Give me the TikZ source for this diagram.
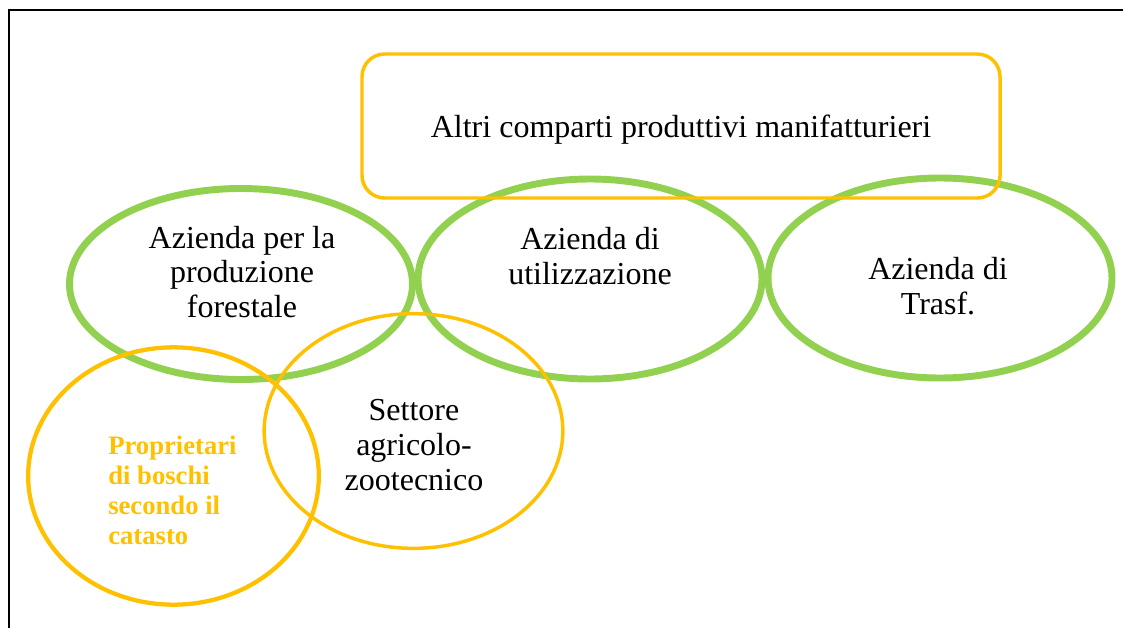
\documentclass[tikz,border=0pt]{standalone}
\usepackage{fontspec}
\setmainfont{Liberation Serif}
\usetikzlibrary{shapes.geometric}
\definecolor{grn}{HTML}{92D050}
\definecolor{org}{HTML}{FFC000}
\begin{document}
\begin{tikzpicture}[x=0.75pt,y=-0.75pt,
  greenell/.style={draw=grn,line width=5.2pt,ellipse,inner sep=0pt},
  orgell/.style={draw=org,line width=2.6pt,ellipse,inner sep=0pt},
  lbl/.style={align=center,font=\fontsize{24}{26}\selectfont,inner sep=0pt},
  blbl/.style={align=left,text=org,font=\fontsize{20}{22.5}\selectfont\bfseries,inner sep=0pt}]
\useasboundingbox (0,0) rectangle (1123,628);
\draw[line width=1.5pt] (9,628) -- (9,10) -- (1123,10);
% green ellipses
\node[greenell,minimum width=257.25pt,minimum height=143.25pt] (e1) at (241,284) {};
\node[greenell,minimum width=258pt,minimum height=150pt] (e2) at (590,279) {};
\node[greenell,minimum width=258pt,minimum height=150pt] (e3) at (940,278) {};
% rounded rectangle
\node[draw=org,line width=2.6pt,rounded corners=17pt,minimum width=478.5pt,minimum height=108pt,inner sep=0pt] (rect) at (681,126) {};
% orange ellipses
\node[orgell,minimum width=224pt,minimum height=176pt] (e4) at (413.5,431) {};
\node[orgell,line width=3.2pt,minimum width=218pt,minimum height=193pt] (e5) at (173.5,476) {};
% labels
\node[lbl] (t0) at (681,130) {Altri comparti produttivi manifatturieri};
\node[lbl] (t1) at (242,272) {Azienda per la\\produzione\\forestale};
\node[lbl] (t2) at (590,256) {Azienda di\\utilizzazione};
\node[lbl] (t3) at (938,286) {Azienda di\\Trasf.};
\node[lbl] (t4) at (414,445) {Settore\\agricolo-\\zootecnico};
\node[blbl,anchor=west] (t5) at (108,490) {Proprietari\\di boschi\\secondo il\\catasto};
\end{tikzpicture}
\end{document}
